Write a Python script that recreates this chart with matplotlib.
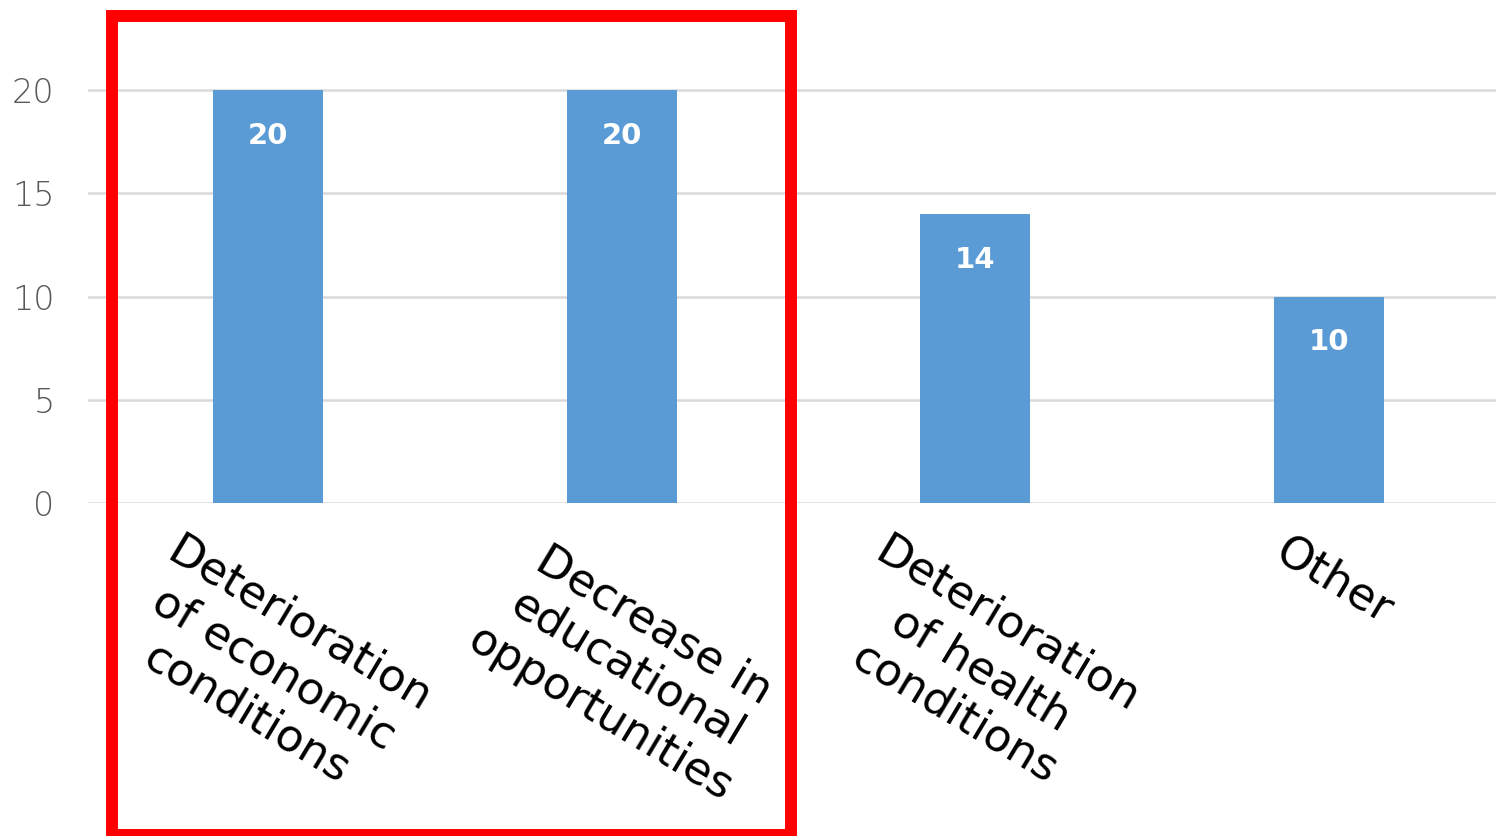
import matplotlib
matplotlib.use("Agg")
import matplotlib.pyplot as plt
from matplotlib.patches import Rectangle

# Chart data
categories = [
    "Deterioration\nof economic\nconditions",
    "Decrease in\neducational\nopportunities",
    "Deterioration\nof health\nconditions",
    "Other",
]
values = [20, 20, 14, 10]
y_ticks = [0, 5, 10, 15, 20]

W, H = 1496, 836
fig = plt.figure(figsize=(W / 100, H / 100), dpi=100)

# axes placed to match the pixel layout (y=0 at 503px, y=20 at 90px)
ax = fig.add_axes([88 / W, (H - 503) / H, (W - 88) / W, 503 / H])

x = list(range(len(categories)))
ax.bar(x, values, width=0.311, color="#5b9bd5", zorder=3)

ax.set_xlim(-0.509, 3.472)
ax.set_ylim(0, 503 / 20.65)

# gridlines
for t in y_ticks:
    ax.axhline(t, color="#d9d9d9", lw=1.8, zorder=1)

ax.set_yticks(y_ticks)
ax.set_yticklabels([str(t) for t in y_ticks], fontsize=24, color="#595959",
                   family="DejaVu Sans", fontweight="light")
ax.tick_params(axis="y", length=0, pad=24)
ax.set_xticks([])

for s in ax.spines.values():
    s.set_visible(False)

# value labels inside bars
for xi, v in zip(x, values):
    ax.annotate(str(v), (xi, v), xytext=(0, -33), textcoords="offset points",
                ha="center", va="center", color="white", fontsize=21,
                fontweight="bold", family="DejaVu Sans", zorder=4)

# rotated category labels
for xi, lab in zip(x, categories):
    ax.annotate(lab, (xi, 0), xytext=(4, -19), textcoords="offset points",
                ha="center", va="top", rotation=-31, multialignment="center",
                fontsize=32.5, family="DejaVu Sans", color="black",
                linespacing=1.25, annotation_clip=False)

# red highlight box
fig.patches.append(Rectangle((112 / W, 1 / H), 679 / W, 819 / H,
                             transform=fig.transFigure, fill=False,
                             edgecolor="#ff0000", lw=8.6, zorder=10))

fig.savefig("out.png", dpi=100)
